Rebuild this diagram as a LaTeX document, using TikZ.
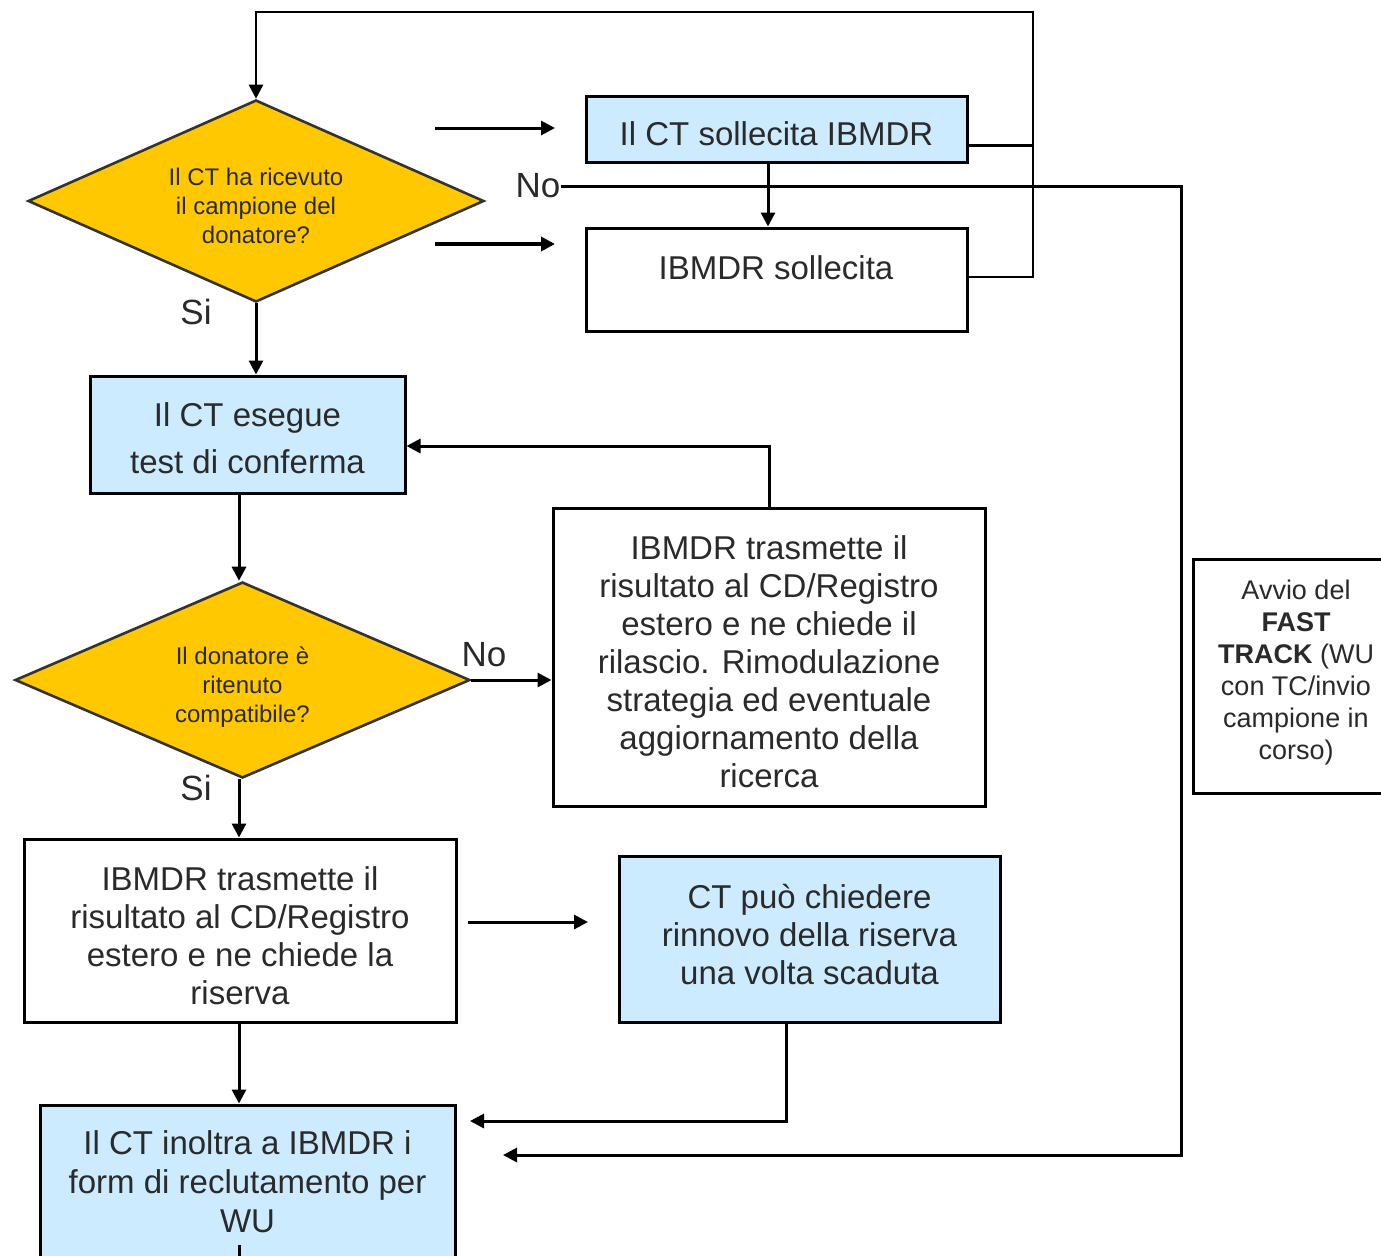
\documentclass[tikz,border=0pt]{standalone}
\usepackage{fontspec}
\setmainfont{Liberation Sans}
\usetikzlibrary{shapes.geometric,arrows.meta}
\definecolor{dyel}{HTML}{FFC800}
\definecolor{lblue}{HTML}{CCEBFF}
\definecolor{txt}{HTML}{2A2A2A}
\begin{document}
\begin{tikzpicture}[x=0.5pt,y=-0.5pt,
  box/.style={draw=black,line width=1.5pt,inner sep=0pt},
  bluebox/.style={box,fill=lblue},
  whitebox/.style={box,fill=white},
  tx/.style={inner sep=0pt,text=txt,align=center,font=\fontsize{16.5}{19}\selectfont},
  dtx/.style={inner sep=0pt,text=txt,align=center,font=\fontsize{12}{14.5}\selectfont},
  dec/.style={draw=black!80,line width=1.3pt,fill=dyel,diamond,inner sep=0pt},
  lab/.style={inner sep=0pt,text=txt,font=\fontsize{17.5}{20}\selectfont},
  conn/.style={line width=1.5pt,draw=black},
  arr/.style={conn,-{Triangle[length=7pt,width=7pt]}}]
\useasboundingbox (0,0) rectangle (1381,1255);
\clip (0,0) rectangle (1381,1255);

% decisions
\node[dec,shape aspect=2.26,minimum width=228pt,minimum height=101pt] (d1) at (256,201) {};
\node[dtx] (d1t) at (256,206) {Il CT ha ricevuto\\il campione del\\donatore?};
\node[dec,shape aspect=2.32,minimum width=227.5pt,minimum height=98pt] (d2) at (242.5,680) {};
\node[dtx] (d2t) at (242.5,687) {Il donatore è\\ritenuto\\compatibile?};

% boxes
\node[bluebox,minimum width=190.5pt,minimum height=33pt] (b1) at (776.5,129) {};
\node[tx] (b1t) at (776.5,134) {Il CT sollecita IBMDR};
\node[whitebox,minimum width=190.5pt,minimum height=51.5pt] (b2) at (776.5,279.5) {};
\node[tx] (b2t) at (776,268) {IBMDR sollecita};
\node[bluebox,minimum width=157.5pt,minimum height=58.5pt] (b3) at (247.5,434.5) {};
\node[tx,font=\fontsize{16.5}{23.5}\selectfont] (b3t) at (247.5,438.5) {Il CT esegue\\test di conferma};
\node[whitebox,minimum width=216pt,minimum height=149pt] (b4) at (769,657) {};
\node[tx] (b4t) at (769,661.5)
  {IBMDR trasmette il\\risultato al CD/Registro\\estero e ne chiede il\\rilascio. Rimodulazione\\strategia ed eventuale\\aggiornamento della\\ricerca};
\node[whitebox,minimum width=216pt,minimum height=91.5pt] (b5) at (240,930.5) {};
\node[tx] (b5t) at (240,936)
  {IBMDR trasmette il\\risultato al CD/Registro\\estero e ne chiede la\\riserva};
\node[bluebox,minimum width=190.5pt,minimum height=83pt] (b6) at (809.5,939) {};
\node[tx] (b6t) at (809.5,934.5) {CT può chiedere\\rinnovo della riserva\\una volta scaduta};
\node[bluebox,minimum width=207.5pt,minimum height=92.5pt] (b7) at (247.5,1197.5) {};
\node[tx,font=\fontsize{16.5}{19.5}\selectfont] (b7t) at (247.5,1182)
  {Il CT inoltra a IBMDR i\\form di reclutamento per\\WU};
\node[whitebox,minimum width=103.5pt,minimum height=117pt] (ft) at (1296.5,676) {};
\node[tx,font=\fontsize{13.5}{16}\selectfont] (ftt) at (1296,672.5)
  {Avvio del\\\textbf{FAST}\\\textbf{TRACK} (WU\\con TC/invio\\campione in\\corso)};

% labels
\node[lab] (no1) at (538,186) {No};
\node[lab] (si1) at (196,312) {Si};
\node[lab] (no2) at (484,655) {No};
\node[lab] (si2) at (196,788) {Si};

% coordinates
\coordinate (j1) at (1033,145);
\coordinate (j2) at (1033,277);
\coordinate (tr) at (1033,12);
\coordinate (fa1s) at (435,128);
\coordinate (fa1e) at (555,128);
\coordinate (fa2s) at (435,244);
\coordinate (fa2e) at (555,244);
\coordinate (nor) at (1181,186);
\coordinate (nob) at (1181,1155);
\coordinate (noe) at (503,1155);
\coordinate (k) at (769,446);
\coordinate (fa3s) at (468,922);
\coordinate (fa3e) at (588,922);
\coordinate (m) at (786,1121);
\coordinate (me) at (470,1121);
\coordinate (v1) at (768,0);
\coordinate (stubA) at (239,1245);
\coordinate (stubB) at (239,1262);

% connectors
\draw[conn] (b1.east |- j1) -- (j1);
\draw[arr,line width=1.3pt] (b2.east |- j2) -- (j2) -- (tr) -- (d1.north |- tr) -- (d1.north);
\draw[arr] (fa1s) -- (fa1e);
\draw[arr,line width=2.2pt] (fa2s) -- (fa2e);
\draw[arr] (b1.south -| v1) -- (b2.north -| v1);
\draw[arr] (no1.east) -- (nor) -- (nob) -- (noe);
\draw[arr] (d1.south) -- (d1.south |- b3.north);
\draw[arr] (b3.south -| stubA) -- (d2.north -| stubA);
\draw[arr] (d2.east) -- (b4.west |- d2.east);
\draw[arr] (b4.north) -- (k) -- (b3.east |- k);
\draw[arr] (d2.south -| stubA) -- (b5.north -| stubA);
\draw[arr] (fa3s) -- (fa3e);
\draw[arr] (b6.south -| m) -- (m) -- (me);
\draw[arr] (b5.south -| stubA) -- (b7.north -| stubA);
\draw[conn] (stubA) -- (stubB);
\end{tikzpicture}
\end{document}
